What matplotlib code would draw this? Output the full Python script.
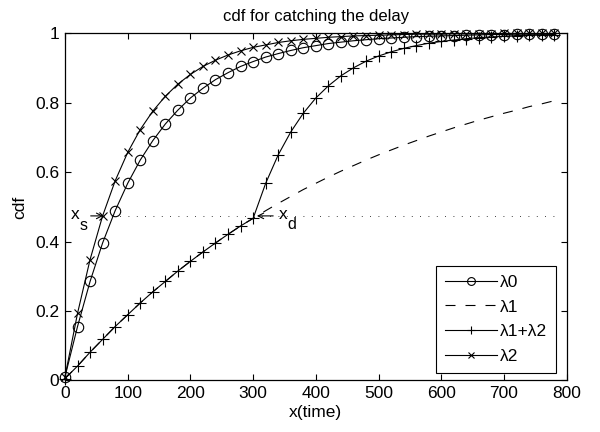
import matplotlib
matplotlib.use("Agg")
import matplotlib.pyplot as plt

plt.rcParams['font.family'] = ['Liberation Sans', 'DejaVu Sans']

x_time = list(range(0, 800, 20))

cdf_lambda0 = [0.01, 0.155, 0.285, 0.396, 0.489, 0.568, 0.635, 0.691, 0.739, 0.779,
               0.814, 0.842, 0.867, 0.887, 0.905, 0.919, 0.932, 0.942, 0.951, 0.959,
               0.965, 0.971, 0.975, 0.979, 0.982, 0.985, 0.987, 0.989, 0.991, 0.992,
               0.993, 0.994, 0.995, 0.996, 0.997, 0.997, 0.998, 0.998, 0.998, 0.999]

cdf_lambda1 = [0.005, 0.041, 0.081, 0.118, 0.155, 0.189, 0.223, 0.255, 0.285, 0.315,
               0.343, 0.370, 0.396, 0.421, 0.445, 0.467, 0.489, 0.510, 0.530, 0.550,
               0.568, 0.586, 0.603, 0.619, 0.635, 0.650, 0.664, 0.678, 0.691, 0.704,
               0.716, 0.728, 0.739, 0.750, 0.760, 0.770, 0.779, 0.789, 0.797, 0.806]

cdf_lambda12 = [0.005, 0.041, 0.081, 0.118, 0.155, 0.189, 0.223, 0.255, 0.285, 0.315,
                0.343, 0.370, 0.396, 0.421, 0.445, 0.467, 0.568, 0.650, 0.716, 0.770,
                0.814, 0.849, 0.878, 0.901, 0.920, 0.935, 0.947, 0.957, 0.965, 0.972,
                0.977, 0.981, 0.985, 0.988, 0.990, 0.992, 0.994, 0.995, 0.996, 0.997]

cdf_lambda2 = [0.01, 0.193, 0.348, 0.474, 0.575, 0.657, 0.723, 0.776, 0.819, 0.854,
               0.882, 0.905, 0.923, 0.938, 0.950, 0.960, 0.967, 0.974, 0.979, 0.983,
               0.986, 0.989, 0.991, 0.993, 0.994, 0.995, 0.996, 0.997, 0.998, 0.998,
               0.998, 0.999, 0.999, 0.999, 0.999, 1.0, 1.0, 1.0, 1.0, 1.0]

series_labels = ['\u03bb0', '\u03bb1', '\u03bb1+\u03bb2', '\u03bb2']

level_y = 0.474
x_s = 60
x_d = 300
level_end = 780

fig = plt.figure(figsize=(6.0, 4.32), dpi=100)
ax = fig.add_axes([0.1083, 0.1197, 0.8362, 0.8028])

fs = 12.5
lw = 0.8
ax.plot(x_time, cdf_lambda0, '-', color='k', lw=lw, marker='o', ms=7.5,
        mfc='none', mew=0.8, label=series_labels[0], clip_on=False)
ax.plot(x_time, cdf_lambda1, color='k', lw=lw, linestyle=(0, (9, 9)),
        label=series_labels[1])
ax.plot(x_time, cdf_lambda12, '-', color='k', lw=lw, marker='+', ms=8.5,
        mew=0.8, label=series_labels[2], clip_on=False)
ax.plot(x_time, cdf_lambda2, '-', color='k', lw=lw, marker='x', ms=6,
        mew=0.8, label=series_labels[3], clip_on=False)

ax.plot([x_s, level_end], [level_y, level_y], color='k', lw=0.6,
        linestyle=(0, (1, 9)))

# x_s annotation
ax.annotate('', xy=(x_s + 1, level_y), xytext=(41, level_y),
            arrowprops=dict(arrowstyle='->', color='k', lw=0.8,
                            shrinkA=0, shrinkB=0))
ax.text(10, 0.479, 'x', fontsize=fs, va='center', ha='left')
ax.text(23, 0.446, 's', fontsize=fs - 1, va='center', ha='left')

# x_d annotation
ax.annotate('', xy=(x_d + 6, level_y), xytext=(332, level_y),
            arrowprops=dict(arrowstyle='->', color='k', lw=0.8,
                            shrinkA=0, shrinkB=0))
ax.text(341, 0.479, 'x', fontsize=fs, va='center', ha='left')
ax.text(354, 0.450, 'd', fontsize=fs - 1, va='center', ha='left')

ax.set_xlim(0, 800)
ax.set_ylim(0, 1)
ax.set_xticks(range(0, 801, 100))
ax.set_yticks([0, 0.2, 0.4, 0.6, 0.8, 1.0])
ax.set_yticklabels(['0', '0.2', '0.4', '0.6', '0.8', '1'])
ax.tick_params(direction='in', top=True, right=True, labelsize=fs,
               length=4, width=0.8, pad=4)
for sp in ax.spines.values():
    sp.set_linewidth(0.9)

ax.set_title('cdf for catching the delay', fontsize=12, pad=9)
ax.set_xlabel('x(time)', fontsize=fs, labelpad=3)
ax.set_ylabel('cdf', fontsize=fs, labelpad=6)

leg = ax.legend(loc='lower right', fontsize=fs, numpoints=1, handlelength=3.0,
                handletextpad=0.17, borderpad=0.5, labelspacing=0.56,
                fancybox=False, edgecolor='k', framealpha=1, markerscale=0.75,
                borderaxespad=0, bbox_to_anchor=(0.9787, 0.021))
leg.get_frame().set_linewidth(0.8)

fig.savefig('out.png', dpi=100)
